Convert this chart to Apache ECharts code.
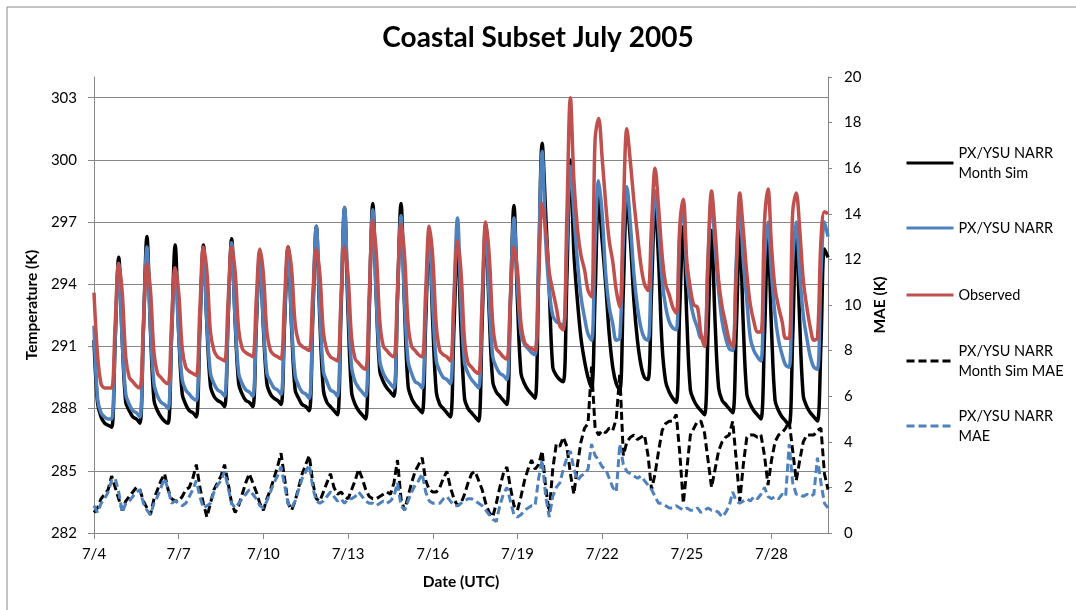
<!DOCTYPE html>
<html>
<head>
<meta charset="utf-8">
<script src="https://cdn.jsdelivr.net/npm/echarts@6/dist/echarts.min.js"></script>
<style>
  html, body { margin: 0; padding: 0; background: #ffffff; }
  #chart { width: 1076px; height: 610px; }
</style>
</head>
<body>
<div id="chart"></div>
<script>
// Sampling step of every series, in hours, starting 7/4 00 UTC
const STEP_HOURS = 3;

// Axis tick labels
const dateTicks = ['7/4', '7/7', '7/10', '7/13', '7/16', '7/19', '7/22', '7/25', '7/28'];
const tempTicks = [282, 285, 288, 291, 294, 297, 300, 303];
const maeTicks = [0, 2, 4, 6, 8, 10, 12, 14, 16, 18, 20];

// Temperature (K), one row per day at 00,03,...,21 UTC
const monthSim = [
  291.3, 288.3, 287.6, 287.3, 287.2, 287.1, 291.3, 295.3,  // 7/4
  291.3, 288.3, 287.9, 287.6, 287.5, 287.3, 291.8, 296.3,  // 7/5
  291.8, 288.4, 287.9, 287.6, 287.4, 287.3, 291.6, 295.9,  // 7/6
  291.7, 288.7, 288.2, 287.9, 287.8, 287.6, 291.8, 295.9,  // 7/7
  292.0, 289.1, 288.6, 288.4, 288.3, 288.1, 292.3, 296.2,  // 7/8
  292.2, 289.2, 288.7, 288.4, 288.3, 288.1, 292.0, 295.6,  // 7/9
  291.9, 289.2, 288.7, 288.5, 288.4, 288.2, 292.1, 295.8,  // 7/10
  291.9, 288.9, 288.5, 288.2, 288.1, 287.9, 292.4, 296.8,  // 7/11
  292.3, 288.9, 288.3, 288.1, 287.9, 287.7, 292.7, 297.7,  // 7/12
  292.6, 288.8, 288.2, 287.9, 287.7, 287.5, 292.7, 297.9,  // 7/13
  293.3, 289.8, 289.3, 289.0, 288.8, 288.6, 293.3, 297.9,  // 7/14
  292.9, 289.1, 288.5, 288.2, 288.0, 287.8, 292.2, 296.5,  // 7/15
  292.1, 288.8, 288.2, 288.0, 287.8, 287.6, 291.9, 296.1,  // 7/16
  291.8, 288.5, 288.0, 287.8, 287.6, 287.4, 292.2, 296.9,  // 7/17
  292.6, 289.3, 288.8, 288.6, 288.4, 288.2, 293.0, 297.8,  // 7/18
  293.2, 289.7, 289.2, 288.9, 288.7, 288.5, 294.5, 300.8,  // 7/19
  297.4, 293.8, 290.0, 289.6, 289.4, 289.3, 294.3, 300.0,  // 7/20
  295.5, 293.2, 291.4, 290.3, 289.5, 289.0, 293.5, 298.2,  // 7/21
  296.1, 294.0, 291.6, 290.0, 289.2, 288.9, 293.7, 298.1,  // 7/22
  296.1, 293.2, 291.3, 290.1, 289.5, 289.4, 293.7, 297.9,  // 7/23
  295.1, 291.0, 289.3, 288.8, 288.5, 288.3, 292.9, 296.8,  // 7/24
  292.3, 288.9, 288.4, 288.1, 287.9, 287.7, 291.7, 296.6,  // 7/25
  292.2, 289.0, 288.4, 288.2, 288.0, 287.8, 291.8, 296.6,  // 7/26
  292.0, 288.7, 288.2, 287.9, 287.7, 287.5, 291.5, 296.3,  // 7/27
  291.8, 288.4, 287.9, 287.6, 287.4, 287.2, 291.5, 296.7,  // 7/28
  292.1, 288.6, 288.1, 287.8, 287.6, 287.4, 291.1, 295.7,  // 7/29
  295.3
];

const narr = [
  292.0, 288.5, 287.8, 287.6, 287.5, 287.5, 291.4, 295.0,  // 7/4
  291.3, 288.7, 288.2, 287.9, 287.8, 287.6, 291.8, 295.8,  // 7/5
  291.9, 289.2, 288.6, 288.3, 288.2, 288.0, 291.5, 294.7,  // 7/6
  291.6, 289.4, 288.9, 288.7, 288.5, 288.4, 292.1, 295.6,  // 7/7
  292.1, 289.7, 289.2, 288.9, 288.8, 288.6, 292.4, 296.0,  // 7/8
  292.3, 289.7, 289.2, 288.9, 288.8, 288.6, 292.2, 295.5,  // 7/9
  292.1, 289.7, 289.3, 289.0, 288.9, 288.7, 292.4, 295.7,  // 7/10
  292.1, 289.6, 289.1, 288.8, 288.7, 288.5, 292.7, 296.8,  // 7/11
  292.7, 289.8, 289.3, 288.9, 288.8, 288.6, 293.2, 297.7,  // 7/12
  293.2, 290.0, 289.3, 289.0, 288.8, 288.6, 293.2, 297.6,  // 7/13
  293.3, 290.3, 289.7, 289.4, 289.2, 289.0, 293.3, 297.3,  // 7/14
  293.2, 290.3, 289.7, 289.3, 289.2, 289.0, 292.9, 296.5,  // 7/15
  292.9, 290.3, 289.8, 289.5, 289.4, 289.2, 293.3, 297.2,  // 7/16
  293.1, 290.2, 289.7, 289.4, 289.2, 289.0, 293.1, 296.9,  // 7/17
  293.2, 290.5, 290.0, 289.7, 289.6, 289.4, 293.4, 297.2,  // 7/18
  293.9, 291.6, 291.1, 290.9, 290.7, 290.6, 295.5, 300.4,  // 7/19
  296.1, 293.7, 292.5, 292.2, 292.1, 292.0, 295.8, 299.7,  // 7/20
  297.4, 295.1, 293.4, 292.4, 291.6, 291.3, 296.0, 299.0,  // 7/21
  297.4, 294.5, 292.9, 292.1, 291.3, 291.4, 296.1, 298.7,  // 7/22
  296.9, 294.5, 292.9, 291.9, 291.4, 291.3, 295.3, 298.5,  // 7/23
  296.7, 294.2, 292.9, 292.2, 291.9, 291.8, 296.4, 297.6,  // 7/24
  294.5, 293.2, 292.4, 291.9, 291.4, 291.4, 295.1, 298.2,  // 7/25
  295.8, 293.7, 292.2, 291.4, 290.9, 290.8, 295.1, 297.7,  // 7/26
  295.1, 293.2, 291.4, 290.8, 290.5, 290.3, 295.1, 297.0,  // 7/27
  294.5, 292.5, 291.3, 290.6, 290.1, 290.0, 295.1, 297.0,  // 7/28
  294.5, 292.5, 291.4, 290.5, 290.0, 289.9, 294.5, 297.0,  // 7/29
  296.3
];

const observed = [
  293.6, 290.6, 289.2, 289.0, 289.0, 289.0, 292.1, 295.0,  // 7/4
  293.6, 290.5, 289.5, 289.3, 289.1, 289.0, 292.1, 295.0,  // 7/5
  293.7, 290.7, 289.7, 289.5, 289.3, 289.2, 292.2, 294.8,  // 7/6
  293.6, 290.9, 290.0, 289.8, 289.7, 289.6, 292.8, 295.8,  // 7/7
  294.6, 291.7, 290.8, 290.5, 290.4, 290.3, 293.2, 295.8,  // 7/8
  294.6, 291.8, 290.9, 290.7, 290.6, 290.5, 293.3, 295.7,  // 7/9
  294.5, 291.7, 290.8, 290.6, 290.5, 290.4, 293.3, 295.8,  // 7/10
  294.7, 292.1, 291.2, 291.0, 290.9, 290.8, 293.5, 295.7,  // 7/11
  294.5, 291.7, 290.8, 290.5, 290.4, 290.3, 293.2, 295.8,  // 7/12
  294.4, 291.4, 290.4, 290.2, 290.0, 289.9, 293.5, 297.1,  // 7/13
  295.5, 292.2, 291.0, 290.8, 290.6, 290.5, 293.8, 296.9,  // 7/14
  295.4, 292.1, 291.0, 290.8, 290.6, 290.5, 293.7, 296.8,  // 7/15
  295.3, 292.0, 290.8, 290.6, 290.5, 290.3, 293.3, 296.1,  // 7/16
  294.6, 291.3, 290.2, 290.0, 289.8, 289.7, 293.3, 297.0,  // 7/17
  295.4, 292.1, 290.9, 290.7, 290.5, 290.4, 293.3, 295.8,  // 7/18
  294.7, 292.1, 291.2, 291.0, 290.9, 290.8, 294.3, 297.9,  // 7/19
  296.6, 294.6, 293.7, 292.9, 292.0, 291.8, 297.3, 303.0,  // 7/20
  299.0, 296.7, 295.4, 294.7, 293.7, 293.4, 301.0, 302.0,  // 7/21
  300.1, 297.9, 296.1, 295.1, 293.7, 292.9, 297.5, 301.5,  // 7/22
  299.9, 298.0, 296.4, 294.9, 294.0, 293.7, 296.9, 299.6,  // 7/23
  297.7, 295.4, 294.0, 293.5, 292.9, 292.6, 296.8, 298.1,  // 7/24
  295.1, 293.8, 293.0, 292.9, 291.6, 291.0, 295.3, 298.5,  // 7/25
  296.6, 294.2, 292.9, 292.1, 291.3, 291.0, 294.5, 298.4,  // 7/26
  296.6, 294.5, 293.0, 292.2, 291.7, 291.7, 297.0, 298.6,  // 7/27
  295.8, 293.8, 292.9, 292.2, 291.4, 291.4, 297.5, 298.4,  // 7/28
  296.6, 294.2, 292.9, 291.9, 291.3, 291.4, 296.1, 297.5,  // 7/29
  297.4
];

// Mean absolute error (K), same sampling
const monthSimMae = [
  0.9, 1.1, 1.5, 1.7, 1.9, 2.5, 2.0, 1.5,  // 7/4
  1.0, 1.4, 1.6, 1.8, 2.0, 1.9, 1.4, 1.1,  // 7/5
  0.8, 1.5, 1.9, 2.3, 2.6, 1.9, 1.5, 1.4,  // 7/6
  1.4, 1.6, 1.9, 2.0, 2.4, 3.0, 2.0, 1.3,  // 7/7
  0.7, 1.3, 1.9, 2.2, 2.5, 3.0, 2.2, 1.3,  // 7/8
  0.9, 1.2, 1.7, 2.2, 2.6, 2.2, 1.8, 1.3,  // 7/9
  1.0, 1.5, 1.9, 2.4, 2.9, 3.5, 2.4, 1.3,  // 7/10
  1.0, 1.4, 2.0, 2.6, 3.0, 3.4, 2.2, 1.5,  // 7/11
  1.4, 1.8, 2.2, 2.6, 2.0, 1.7, 1.8, 1.6,  // 7/12
  1.5, 1.9, 2.3, 2.8, 2.4, 1.9, 1.6, 1.5,  // 7/13
  1.5, 1.6, 1.7, 1.8, 1.7, 2.2, 3.2, 1.5,  // 7/14
  1.0, 1.6, 2.2, 2.7, 3.0, 3.3, 2.3, 1.9,  // 7/15
  1.8, 1.8, 2.0, 2.4, 2.7, 2.0, 1.5, 1.2,  // 7/16
  1.3, 1.7, 2.2, 2.6, 2.7, 2.3, 1.9, 1.3,  // 7/17
  0.9, 0.7, 1.3, 2.0, 2.6, 2.9, 2.0, 1.2,  // 7/18
  1.0, 1.6, 2.3, 2.8, 3.2, 2.8, 3.0, 3.6,  // 7/19
  2.0, 0.9, 2.8, 3.9, 3.8, 4.2, 3.8, 2.6,  // 7/20
  1.7, 3.0, 4.0, 4.6, 4.8, 7.3, 4.6, 4.3,  // 7/21
  4.5, 4.4, 4.6, 4.5, 5.0, 7.0, 3.4, 4.0,  // 7/22
  4.2, 4.3, 4.1, 4.2, 4.3, 3.4, 1.9, 2.6,  // 7/23
  3.6, 4.5, 4.8, 4.9, 4.9, 5.2, 3.5, 1.3,  // 7/24
  2.8, 4.3, 4.6, 4.9, 4.9, 4.4, 3.2, 2.0,  // 7/25
  2.8, 3.6, 4.0, 4.2, 4.3, 4.9, 3.2, 1.4,  // 7/26
  3.0, 4.2, 4.3, 4.3, 4.2, 4.3, 3.4, 2.1,  // 7/27
  3.2, 4.0, 4.3, 4.4, 4.6, 4.9, 3.6, 2.3,  // 7/28
  3.2, 4.0, 4.3, 4.3, 4.3, 4.5, 4.6, 2.6,  // 7/29
  1.9
];

const narrMae = [
  1.2, 0.9, 1.3, 1.5, 1.8, 2.3, 2.4, 1.8,  // 7/4
  0.9, 1.3, 1.4, 1.6, 1.8, 1.9, 1.3, 1.0,  // 7/5
  0.8, 1.3, 1.6, 2.0, 2.4, 1.9, 1.3, 1.4,  // 7/6
  1.3, 1.2, 1.3, 1.6, 1.9, 2.3, 1.6, 1.1,  // 7/7
  1.2, 1.3, 1.8, 2.1, 2.3, 2.7, 2.0, 1.3,  // 7/8
  1.1, 1.3, 1.5, 1.7, 1.9, 1.7, 1.5, 1.2,  // 7/9
  1.1, 1.4, 1.8, 2.2, 2.5, 2.9, 2.1, 1.3,  // 7/10
  1.1, 1.4, 1.9, 2.4, 2.7, 3.0, 2.0, 1.4,  // 7/11
  1.3, 1.4, 1.6, 1.8, 1.6, 1.4, 1.5, 1.3,  // 7/12
  1.5, 1.5, 1.6, 1.8, 1.6, 1.4, 1.3, 1.3,  // 7/13
  1.2, 1.3, 1.4, 1.3, 1.4, 1.6, 2.2, 1.2,  // 7/14
  1.0, 1.4, 1.8, 2.1, 2.3, 2.6, 1.8, 1.4,  // 7/15
  1.3, 1.3, 1.3, 1.5, 1.6, 1.4, 1.2, 1.2,  // 7/16
  1.3, 1.4, 1.5, 1.5, 1.4, 1.3, 1.2, 1.0,  // 7/17
  0.8, 0.6, 0.5, 1.2, 1.7, 2.0, 1.4, 0.8,  // 7/18
  0.7, 0.8, 1.0, 1.1, 1.2, 1.2, 2.4, 3.2,  // 7/19
  1.6, 0.7, 1.6, 2.0, 2.2, 2.8, 3.3, 3.6,  // 7/20
  2.8, 2.3, 2.5, 2.6, 2.8, 3.9, 3.4, 3.2,  // 7/21
  2.9, 2.8, 2.4, 2.0, 1.8, 3.9, 3.0, 2.7,  // 7/22
  2.6, 2.5, 2.4, 2.5, 2.3, 2.1, 1.9, 1.6,  // 7/23
  1.3, 1.3, 1.2, 1.1, 1.1, 1.2, 1.1, 1.0,  // 7/24
  1.1, 1.0, 1.0, 1.1, 0.9, 1.0, 1.1, 1.0,  // 7/25
  1.0, 0.9, 0.7, 0.9, 1.2, 1.8, 1.4, 1.3,  // 7/26
  1.4, 1.5, 1.4, 1.6, 1.5, 1.7, 2.0, 1.6,  // 7/27
  1.5, 1.6, 1.5, 1.7, 1.6, 3.9, 2.2, 1.7,  // 7/28
  1.7, 1.6, 1.7, 1.6, 1.7, 3.3, 2.2, 1.3,  // 7/29
  1.1
];

const FONT = 'Lato, "Open Sans", sans-serif';
const AXIS_GREY = '#868686';
const HOURS_PER_TICK = 72;
const toPoints = arr => arr.map((v, i) => [i * STEP_HOURS, v]);

const names = {
  ms: 'PX/YSU NARR\nMonth Sim',
  narr: 'PX/YSU NARR',
  obs: 'Observed',
  msMae: 'PX/YSU NARR\nMonth Sim MAE',
  narrMae: 'PX/YSU NARR\nMAE'
};

// One legend block per series so each entry sits at its own height;
// two-line entries get top padding so the line sample aligns with the first line
function legendAt(name, top, twoLines) {
  return {
    data: [name],
    orient: 'vertical',
    left: 905,
    top: top,
    padding: 0,
    itemWidth: 47,
    itemHeight: 14,
    itemStyle: { opacity: 0 },
    lineStyle: { width: 3 },
    textStyle: {
      fontFamily: FONT,
      fontSize: 14.5,
      color: '#000',
      lineHeight: 20,
      padding: twoLines ? [20, 0, 0, 0] : 0
    }
  };
}

const axisNameStyle = { fontFamily: FONT, fontSize: 15.5, fontWeight: 'bold', color: '#000' };
const tickLabelStyle = { fontFamily: FONT, fontSize: 15, color: '#000' };

const chart = echarts.init(document.getElementById('chart'), null, { renderer: 'canvas' });

chart.setOption({
  animation: false,
  backgroundColor: '#ffffff',
  textStyle: { fontFamily: FONT },
  graphic: [{
    type: 'rect',
    shape: { x: 7, y: 7, width: 1200, height: 1200 },
    style: { fill: 'none', stroke: '#8a8a8a', lineWidth: 1 },
    silent: true
  }],
  title: {
    text: 'Coastal Subset July 2005',
    left: 'center',
    top: 19,
    textStyle: { fontFamily: FONT, fontSize: 28, fontWeight: 'bold', color: '#000' }
  },
  legend: [
    legendAt(names.ms, 133, true),
    legendAt(names.narr, 218, false),
    legendAt(names.obs, 285, false),
    legendAt(names.msMae, 331, true),
    legendAt(names.narrMae, 396, true)
  ],
  grid: { left: 94, right: 248, top: 77, bottom: 77, containLabel: false },
  xAxis: {
    type: 'value',
    min: 0,
    max: 624,
    interval: HOURS_PER_TICK,
    name: 'Date (UTC)',
    nameLocation: 'middle',
    nameGap: 41,
    nameTextStyle: axisNameStyle,
    axisLine: { show: true, lineStyle: { color: AXIS_GREY, width: 1 } },
    axisTick: {
      show: true, inside: false, length: 6,
      lineStyle: { color: AXIS_GREY },
      customValues: dateTicks.map((_, i) => i * HOURS_PER_TICK)
    },
    axisLabel: Object.assign({
      margin: 14,
      customValues: dateTicks.map((_, i) => i * HOURS_PER_TICK),
      formatter: v => dateTicks[Math.round(v / HOURS_PER_TICK)] || ''
    }, tickLabelStyle),
    splitLine: { show: false }
  },
  yAxis: [{
    type: 'value',
    min: 282,
    max: 304,
    interval: 3,
    position: 'left',
    name: 'Temperature (K)',
    nameLocation: 'middle',
    nameGap: 45,
    nameRotate: 90,
    nameTextStyle: axisNameStyle,
    axisLine: { show: true, lineStyle: { color: AXIS_GREY, width: 1 } },
    axisTick: { show: true, length: 6, lineStyle: { color: AXIS_GREY }, customValues: tempTicks },
    axisLabel: Object.assign({ margin: 17, customValues: tempTicks }, tickLabelStyle),
    splitLine: { show: true, lineStyle: { color: AXIS_GREY, width: 1 } }
  }, {
    type: 'value',
    min: 0,
    max: 20,
    interval: 2,
    position: 'right',
    name: 'MAE (K)',
    nameLocation: 'middle',
    nameGap: 42,
    nameRotate: 90,
    nameTextStyle: axisNameStyle,
    axisLine: { show: true, lineStyle: { color: AXIS_GREY, width: 1 } },
    axisTick: { show: true, length: 4, lineStyle: { color: AXIS_GREY }, customValues: maeTicks },
    axisLabel: Object.assign({ margin: 16, customValues: maeTicks }, tickLabelStyle),
    splitLine: { show: false }
  }],
  series: [{
    name: names.ms, type: 'line', yAxisIndex: 0, showSymbol: false, symbol: 'none',
    smooth: 0.35, data: toPoints(monthSim),
    lineStyle: { color: '#000000', width: 3.5 }, itemStyle: { color: '#000000' }
  }, {
    name: names.narr, type: 'line', yAxisIndex: 0, showSymbol: false, symbol: 'none',
    smooth: 0.35, data: toPoints(narr),
    lineStyle: { color: '#4F81BD', width: 3.5 }, itemStyle: { color: '#4F81BD' }
  }, {
    name: names.obs, type: 'line', yAxisIndex: 0, showSymbol: false, symbol: 'none',
    smooth: 0.35, data: toPoints(observed),
    lineStyle: { color: '#C0504D', width: 3.5 }, itemStyle: { color: '#C0504D' }
  }, {
    name: names.msMae, type: 'line', yAxisIndex: 1, showSymbol: false, symbol: 'none',
    data: toPoints(monthSimMae),
    lineStyle: { color: '#000000', width: 3, type: [8, 4] }, itemStyle: { color: '#000000' }
  }, {
    name: names.narrMae, type: 'line', yAxisIndex: 1, showSymbol: false, symbol: 'none',
    data: toPoints(narrMae),
    lineStyle: { color: '#4F81BD', width: 3, type: [8, 4] }, itemStyle: { color: '#4F81BD' }
  }]
});
</script>
</body>
</html>
